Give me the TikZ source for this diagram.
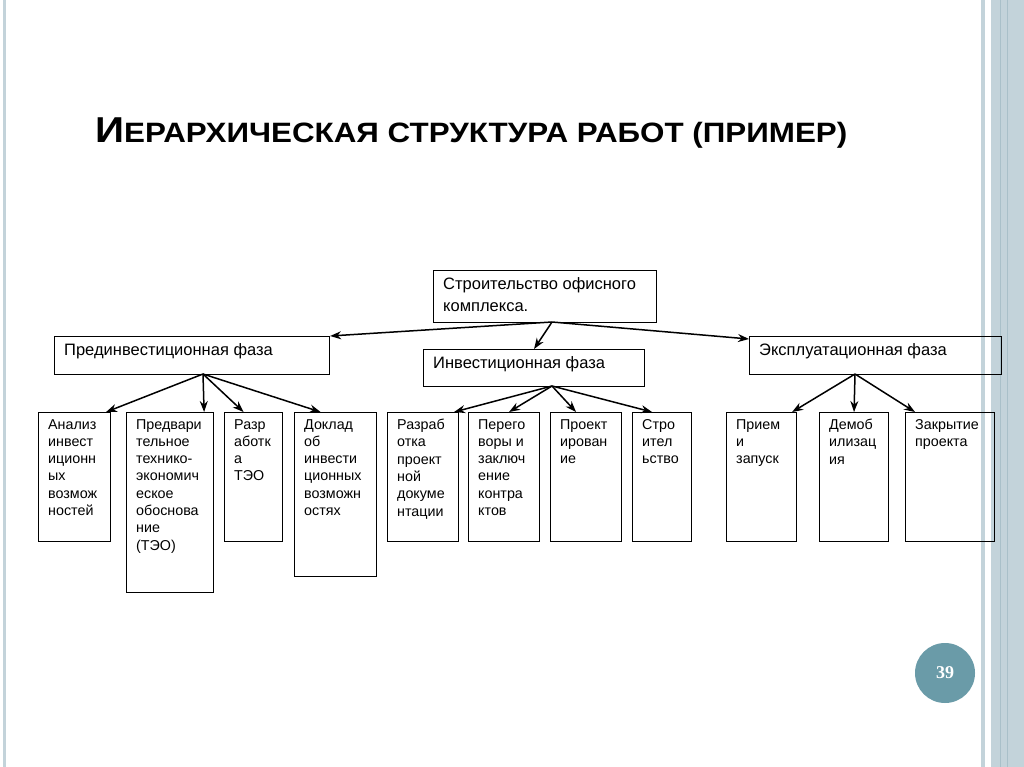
\documentclass[tikz,border=0pt]{standalone}
\usepackage{fontspec}
\setmainfont{Liberation Sans}
\newfontfamily\numfont{Liberation Serif}
\usetikzlibrary{arrows.meta}
\definecolor{stripe}{HTML}{C3D3DA}
\definecolor{stripeD}{HTML}{A9C0C9}
\definecolor{circ}{HTML}{6A9BA8}
\begin{document}
\begin{tikzpicture}[x=1pt,y=-1pt,
  box/.style={draw,line width=1.1pt,anchor=north west,inner sep=0pt},
  txt/.style={anchor=north west,inner sep=0pt,align=left,font=\fontsize{14.3}{17.3}\selectfont},
  big/.style={anchor=north west,inner sep=0pt,align=left,font=\fontsize{16.5}{22}\selectfont},
  arr/.style={-{Stealth[length=11pt,width=8pt]},line width=1.5pt}]
\useasboundingbox (0,0) rectangle (1024,767);
\fill[white] (0,0) rectangle (1024,767);
% frame
\fill[stripe] (3,0) rectangle (6,767);
\fill[stripe] (981,0) rectangle (985,767);
\fill[stripe] (991,0) rectangle (1024,767);
\fill[stripeD] (1000,0) rectangle (1001,767);
\fill[stripeD] (1007,0) rectangle (1008,767);
% title
\node[anchor=west,inner sep=0pt] (title) at (95,133) {\scalebox{1.12}[1]{\bfseries\fontsize{36}{40}\selectfont И\fontsize{28}{30}\selectfont ЕРАРХИЧЕСКАЯ СТРУКТУРА РАБОТ (ПРИМЕР)}};
% boxes
\newcommand{\bx}[7]{\node[box,minimum width=#4-#2,minimum height=#5-#3] (#1) at (#2,#3) {};
  \node[#7] (#1t) at ([shift={(10,7)}]#1.north west) {#6};}
\bx{root}{433}{270}{656}{322}{Строительство офисного\\комплекса.}{big}
\bx{pre}{54}{336}{329}{374}{Прединвестиционная фаза}{big}
\bx{inv}{423}{349}{644}{386}{Инвестиционная фаза}{big}
\bx{exp}{749}{336}{1001}{374}{Эксплуатационная фаза}{big}
\bx{a1}{38}{412}{110}{541}{Анализ\\инвест\\иционн\\ых\\возмож\\ностей}{txt}
\bx{a2}{126}{412}{213}{592}{Предвари\\тельное\\технико-\\экономич\\еское\\обоснова\\ние\\(ТЭО)}{txt}
\bx{a3}{224}{412}{282}{541}{Разр\\аботк\\а\\ТЭО}{txt}
\bx{a4}{294}{412}{376}{576}{Доклад\\об\\инвести\\ционных\\возможн\\остях}{txt}
\bx{b1}{387}{412}{458}{541}{Разраб\\отка\\проект\\ной\\докуме\\нтации}{txt}
\bx{b2}{468}{412}{539}{541}{Перего\\воры и\\заключ\\ение\\контра\\ктов}{txt}
\bx{b3}{550}{412}{621}{541}{Проект\\ирован\\ие}{txt}
\bx{b4}{632}{412}{691}{541}{Стро\\ител\\ьство}{txt}
\bx{c1}{726}{412}{796}{541}{Прием\\и\\запуск}{txt}
\bx{c2}{819}{412}{888}{541}{Демоб\\илизац\\ия}{txt}
\bx{c3}{905}{412}{994}{541}{Закрытие\\проекта}{txt}
% connectors
\coordinate (r) at (552,322);
\draw[arr] (r) -- (pre.north east);
\draw[arr] (r) -- (inv.north);
\draw[arr] (r) -- ([yshift=-3]exp.north west);
\coordinate (p) at (203,374);
\draw[arr] (p) -- ([xshift=-5]a1.north east);
\draw[arr] (p) -- ([xshift=-10]a2.north east);
\draw[arr] (p) -- ([xshift=-10]a3.north);
\draw[arr] (p) -- ([xshift=-15]a4.north);
\coordinate (q) at (552,386);
\draw[arr] (q) -- ([xshift=-5]b1.north east);
\draw[arr] (q) -- ([xshift=5]b2.north);
\draw[arr] (q) -- ([xshift=-10]b3.north);
\draw[arr] (q) -- ([xshift=-10]b4.north);
\coordinate (e) at (855,374);
\draw[arr] (e) -- ([xshift=-5]c1.north east);
\draw[arr] (e) -- (c2.north);
\draw[arr] (e) -- ([xshift=10]c3.north west);
% page number
\node[circle,fill=circ,minimum size=60pt,inner sep=0pt,text=white,font=\numfont\bfseries\fontsize{18}{20}\selectfont] (pg) at (945,673) {39};
\end{tikzpicture}
\end{document}
